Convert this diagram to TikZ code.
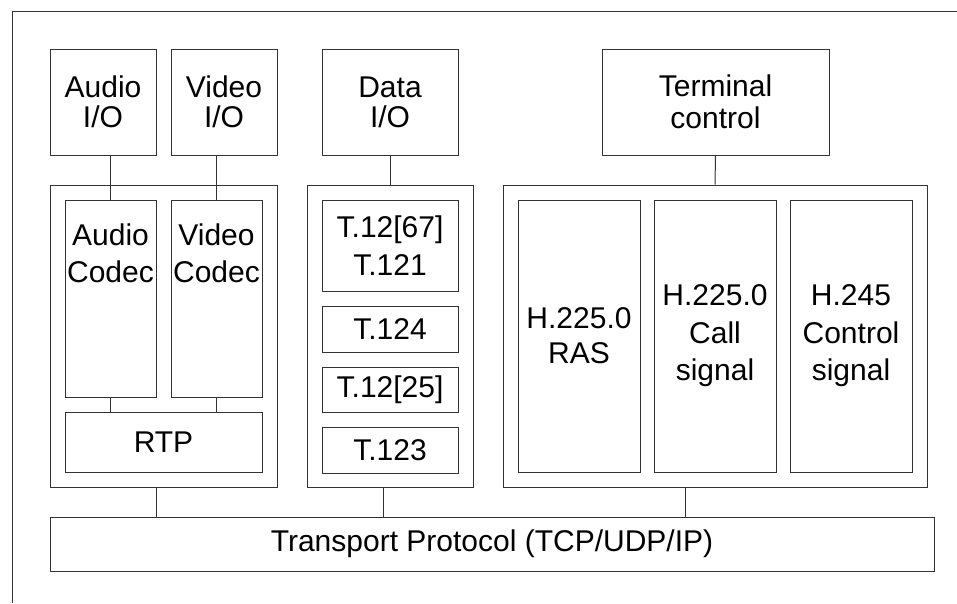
\documentclass[tikz,border=0pt]{standalone}
\usepackage{fontspec}
\setmainfont{Liberation Sans}
\begin{document}
\begin{tikzpicture}[x=1pt,y=-1pt,
  line width=1pt,
  box/.style={draw=black!80, rectangle, inner sep=0pt, align=center, font=\fontsize{30}{30}\selectfont},
  conn/.style={draw=black!80},
  lbl/.style={anchor=north, inner sep=0pt, align=center, yshift=-24pt, font=\fontsize{30}{37}\selectfont}
]
\useasboundingbox (0,0) rectangle (957,603);
% outer frame (only top and left edges visible)
\draw[black!80] (12,603) -- (12,11) -- (957,11);

% top row
\node[box, minimum width=106pt, minimum height=106pt] (aio) at (103,102) {Audio\\I/O};
\node[box, minimum width=106pt, minimum height=106pt] (vio) at (224,102) {Video\\I/O};
\node[box, minimum width=136pt, minimum height=106pt] (dio) at (390,102) {Data\\I/O};
\node[box, minimum width=227pt, minimum height=106pt, font=\fontsize{30}{32}\selectfont] (tc) at (715.5,102) {Terminal\\control};

% left group
\node[box, minimum width=227pt, minimum height=302pt] (lgrp) at (163.5,336) {};
\node[box, minimum width=91pt, minimum height=197pt,
  label={[lbl]north:{Audio\\Codec}}] (acod) at (110.5,298.5) {};
\node[box, minimum width=91pt, minimum height=197pt,
  label={[lbl]north:{Video\\Codec}}] (vcod) at (216.5,298.5) {};
\node[box, minimum width=197pt, minimum height=60pt] (rtp) at (163.5,442) {RTP};

% data group
\node[box, minimum width=166pt, minimum height=302pt] (dgrp) at (390,336) {};
\node[box, minimum width=136pt, minimum height=91pt, font=\fontsize{30}{38}\selectfont] (t1267) at (390,245.5) {T.12[67]\\T.121};
\node[box, minimum width=136pt, minimum height=46pt] (t124) at (390,329) {T.124};
\node[box, minimum width=136pt, minimum height=45pt] (t1225) at (390,389.5) {T.12[25]};
\node[box, minimum width=136pt, minimum height=46pt] (t123) at (390,450) {T.123};

% right group
\node[box, minimum width=424pt, minimum height=302pt] (rgrp) at (715,336) {};
\node[box, minimum width=122pt, minimum height=272pt, font=\fontsize{30}{35}\selectfont] (ras) at (579,336) {H.225.0\\RAS};
\node[box, minimum width=122pt, minimum height=272pt, font=\fontsize{30}{37.5}\selectfont] (call) at (715,336) {H.225.0\\Call\\signal};
\node[box, minimum width=122pt, minimum height=272pt, font=\fontsize{30}{37.5}\selectfont] (ctl) at (851,336) {H.245\\Control\\signal};

% transport
\node[box, minimum width=884pt, minimum height=54pt] (tp) at (492,544) {Transport Protocol (TCP/UDP/IP)};

% connectors
\draw[conn] (acod.north) -- (acod.north |- aio.south);
\draw[conn] (vcod.north) -- (vcod.north |- vio.south);
\draw[conn] (dio.south) -- (dgrp.north);
\draw[conn] (tc.south) -- (rgrp.north);
\draw[conn] (acod.south) -- (acod.south |- rtp.north);
\draw[conn] (vcod.south) -- (vcod.south |- rtp.north);
\draw[conn] ([xshift=-7.5pt]lgrp.south) -- ([xshift=-7.5pt]lgrp.south |- tp.north);
\draw[conn] ([xshift=-7pt]dgrp.south) -- ([xshift=-7pt]dgrp.south |- tp.north);
\draw[conn] ([xshift=-30pt]rgrp.south) -- ([xshift=-30pt]rgrp.south |- tp.north);
\end{tikzpicture}
\end{document}
